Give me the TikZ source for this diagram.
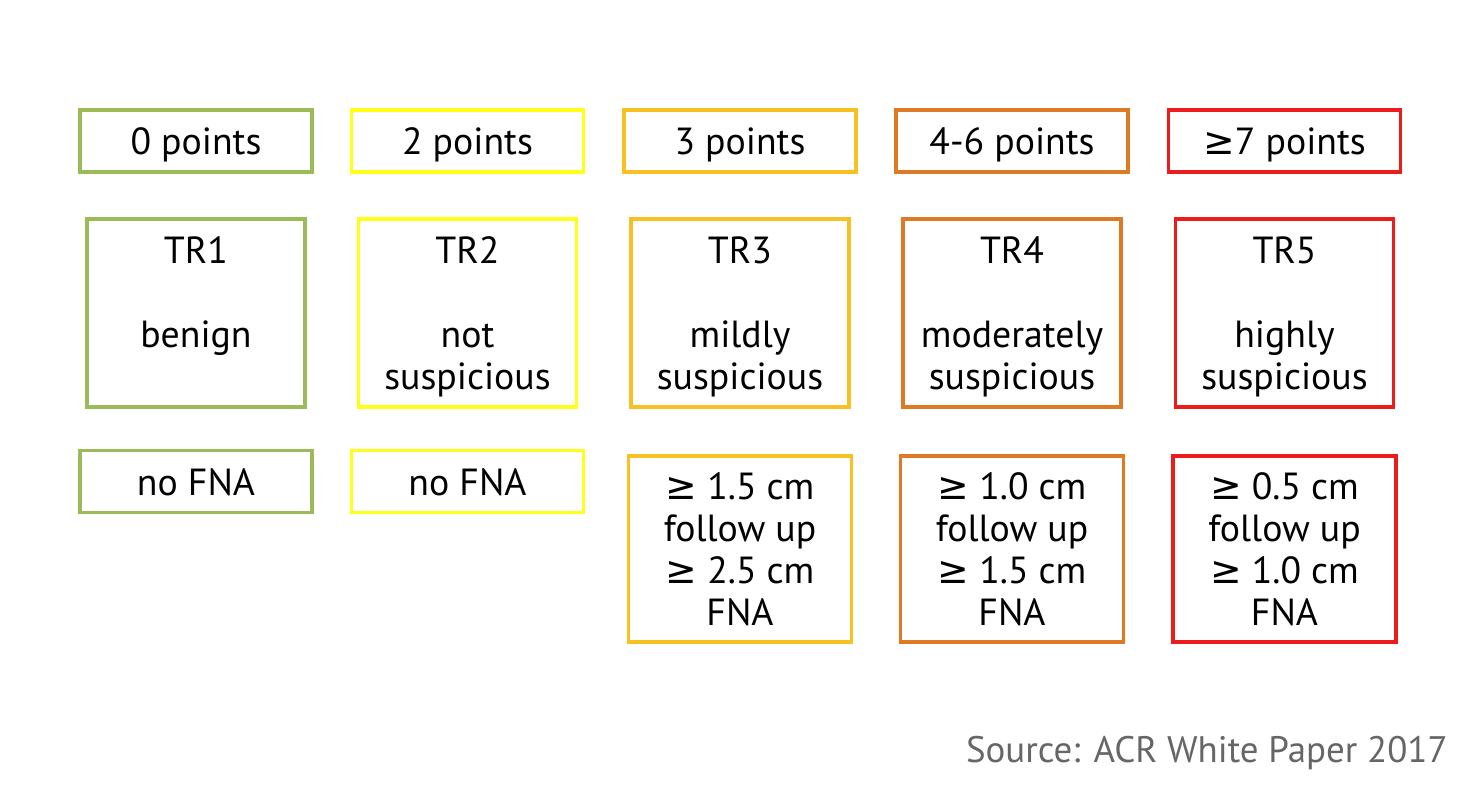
\documentclass[tikz,border=0pt]{standalone}
\usepackage{fontspec}
\setmainfont{PT Sans}
\newfontfamily\symfont{DejaVu Sans}
\usetikzlibrary{positioning}
\definecolor{trgreen}{HTML}{9BBB59}
\definecolor{tryellow}{HTML}{FFFF1A}
\definecolor{trgold}{HTML}{F5C123}
\definecolor{trorange}{HTML}{DF7A24}
\definecolor{trred}{HTML}{EC1C1C}
\definecolor{srcgray}{HTML}{666666}
\newcommand{\gesym}{{\symfont ≥}}

\begin{document}
\begin{tikzpicture}[x=0.02cm, y=-0.02cm,
    box/.style={draw, line width=2pt, align=center, inner sep=0pt,
        font=\fontsize{21.5}{23.9}\selectfont},
    pointbox/.style={box, minimum width=4.64cm, minimum height=1.24cm,
        text height=0.64cm, text depth=0.08cm},
    tirads/.style={box, minimum width=4.36cm, minimum height=3.76cm, text depth=0pt},
    advice/.style={box, minimum width=4.46cm, minimum height=3.72cm},
    source/.style={font=\fontsize{21}{24}\selectfont, text=srcgray, inner sep=0pt},
    ]
    \useasboundingbox (0,0) rectangle (1480,810);
    % Points
    \node[pointbox, draw=trgreen]  (p1) at (196,141)    {0 points};
    \node[pointbox, draw=tryellow] (p2) at (467.5,141)  {2 points};
    \node[pointbox, draw=trgold]   (p3) at (740,141)    {3 points};
    \node[pointbox, draw=trorange] (p4) at (1012,141)   {4-6 points};
    \node[pointbox, draw=trred]    (p5) at (1284.5,141) {\gesym7 points};
    % TI-RADS level
    \node[tirads, draw=trgreen]  (tr1) at (196,313)    {TR1\\~\\benign\\~};
    \node[tirads, draw=tryellow] (tr2) at (467.5,313)  {TR2\\~\\not\\suspicious};
    \node[tirads, draw=trgold]   (tr3) at (740,313)    {TR3\\~\\mildly\\suspicious};
    \node[tirads, draw=trorange] (tr4) at (1012,313)   {TR4\\~\\moderately\\suspicious};
    \node[tirads, draw=trred]    (tr5) at (1284.5,313) {TR5\\~\\highly\\suspicious};
    % Recommendation
    \node[pointbox, draw=trgreen]  (r1) at (196,481.5)   {no FNA};
    \node[pointbox, draw=tryellow] (r2) at (467.5,481.5) {no FNA};
    \node[advice, draw=trgold]   (r3) at (740,549)    {\gesym{} 1.5 cm\\follow up\\\gesym{} 2.5 cm\\FNA};
    \node[advice, draw=trorange] (r4) at (1012,549)   {\gesym{} 1.0 cm\\follow up\\\gesym{} 1.5 cm\\FNA};
    \node[advice, draw=trred]    (r5) at (1284.5,549) {\gesym{} 0.5 cm\\follow up\\\gesym{} 1.0 cm\\FNA};
    % Source
    \node[source, anchor=base east] (src) at (1448,762) {Source: ACR White Paper 2017};
\end{tikzpicture}
\end{document}
